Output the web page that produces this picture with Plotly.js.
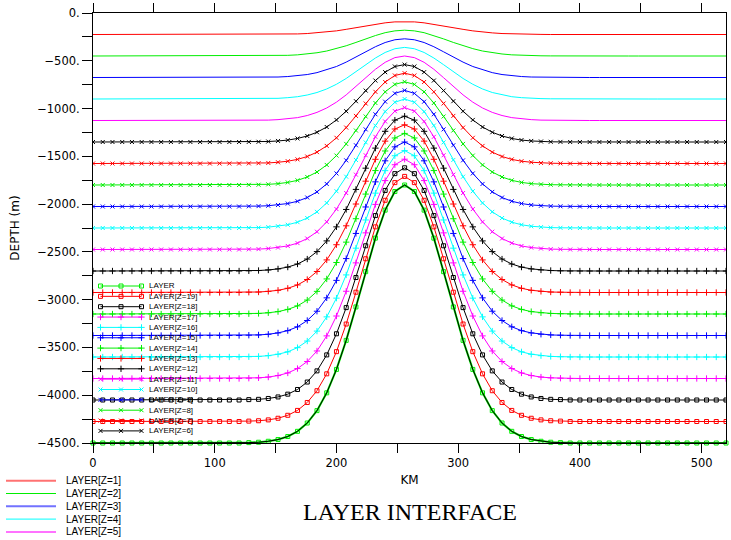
<!DOCTYPE html>
<html><head><meta charset="utf-8">
<script src="https://cdn.plot.ly/plotly-3.0.1.min.js"></script>
<style>html,body{margin:0;padding:0;background:#fff;}#chart{width:731px;height:540px;}</style>
</head><body><div id="chart"></div>
<script>
// ---------------- DATA ----------------
const xKm = [0,8,16,24,32,40,48,56,64,72,80,88,96,104,112,120,128,136,144,152,160,168,176,184,192,200,208,216,224,232,240,248,256,264,272,280,288,296,304,312,320,328,336,344,352,360,368,376,384,392,400,408,416,424,432,440,448,456,464,472,480,488,496,504,512,520];

const layer1 = [-225,-225,-225,-225,-225,-225,-225,-225,-225,-225,-225,-225,-225,-225,-225,-225,
 -225,-225,-224,-223,-222,-219,-215,-208,-199,-187,-171,-154,-135,-118,-103,-93,-90,
 -93,-103,-118,-135,-154,-171,-187,-199,-208,-215,-219,-222,-223,-224,-225,-225,
 -225,-225,-225,-225,-225,-225,-225,-225,-225,-225,-225,-225,-225,-225,-225,-225,-225];
const layer2 = [-450,-450,-450,-450,-450,-450,-450,-450,-450,-450,-450,-450,-450,-450,-450,-450,
 -450,-449,-448,-446,-443,-438,-429,-416,-398,-373,-343,-308,-271,-236,-206,-187,-180,
 -187,-206,-236,-271,-308,-343,-373,-398,-416,-429,-438,-443,-446,-448,-449,-450,
 -450,-450,-450,-450,-450,-450,-450,-450,-450,-450,-450,-450,-450,-450,-450,-450,-450];
const layer3 = [-675,-675,-675,-675,-675,-675,-675,-675,-675,-675,-675,-675,-675,-675,-675,-675,
 -674,-674,-672,-670,-665,-657,-644,-624,-596,-560,-514,-461,-406,-353,-309,-280,-270,
 -280,-309,-353,-406,-461,-514,-560,-596,-624,-644,-657,-665,-670,-672,-674,-674,
 -675,-675,-675,-675,-675,-675,-675,-675,-675,-675,-675,-675,-675,-675,-675,-675,-675];
const layer4 = [-900,-900,-900,-900,-900,-900,-900,-900,-900,-900,-900,-900,-900,-900,-900,-900,
 -899,-898,-896,-893,-886,-876,-858,-832,-795,-746,-685,-615,-541,-471,-413,-374,-360,
 -374,-413,-471,-541,-615,-685,-746,-795,-832,-858,-876,-886,-893,-896,-898,-899,
 -900,-900,-900,-900,-900,-900,-900,-900,-900,-900,-900,-900,-900,-900,-900,-900,-900];
const layer5 = [-1125,-1125,-1125,-1125,-1125,-1125,-1125,-1125,-1125,-1125,-1125,-1125,-1125,-1125,-1125,-1125,
 -1124,-1123,-1121,-1116,-1108,-1095,-1073,-1040,-994,-933,-857,-769,-677,-589,-516,-467,-450,
 -467,-516,-589,-677,-769,-857,-933,-994,-1040,-1073,-1095,-1108,-1116,-1121,-1123,-1124,
 -1125,-1125,-1125,-1125,-1125,-1125,-1125,-1125,-1125,-1125,-1125,-1125,-1125,-1125,-1125,-1125,-1125];
const layer6 = [-1350,-1350,-1350,-1350,-1350,-1350,-1350,-1350,-1350,-1350,-1350,-1350,-1350,-1350,-1350,-1350,
 -1349,-1348,-1345,-1339,-1330,-1313,-1287,-1248,-1193,-1119,-1028,-923,-812,-707,-619,-560,-540,
 -560,-619,-707,-812,-923,-1028,-1119,-1193,-1248,-1287,-1313,-1330,-1339,-1345,-1348,-1349,
 -1350,-1350,-1350,-1350,-1350,-1350,-1350,-1350,-1350,-1350,-1350,-1350,-1350,-1350,-1350,-1350,-1350];
const layer7 = [-1575,-1575,-1575,-1575,-1575,-1575,-1575,-1575,-1575,-1575,-1575,-1575,-1575,-1575,-1575,-1575,
 -1574,-1572,-1569,-1562,-1551,-1532,-1502,-1456,-1391,-1306,-1199,-1077,-947,-825,-722,-654,-630,
 -654,-722,-825,-947,-1077,-1199,-1306,-1391,-1456,-1502,-1532,-1551,-1562,-1569,-1572,-1574,
 -1575,-1575,-1575,-1575,-1575,-1575,-1575,-1575,-1575,-1575,-1575,-1575,-1575,-1575,-1575,-1575,-1575];
const layer8 = [-1800,-1800,-1800,-1800,-1800,-1800,-1800,-1800,-1800,-1800,-1800,-1800,-1800,-1800,-1800,-1800,
 -1798,-1797,-1793,-1786,-1773,-1751,-1716,-1664,-1590,-1492,-1370,-1230,-1083,-942,-825,-747,-720,
 -747,-825,-942,-1083,-1230,-1370,-1492,-1590,-1664,-1716,-1751,-1773,-1786,-1793,-1797,-1798,
 -1800,-1800,-1800,-1800,-1800,-1800,-1800,-1800,-1800,-1800,-1800,-1800,-1800,-1800,-1800,-1800,-1800];
const layer9 = [-2025,-2025,-2025,-2025,-2025,-2025,-2025,-2025,-2025,-2025,-2025,-2025,-2025,-2025,-2025,-2025,
 -2023,-2021,-2017,-2009,-1994,-1970,-1931,-1872,-1789,-1679,-1542,-1384,-1218,-1060,-928,-841,-810,
 -841,-928,-1060,-1218,-1384,-1542,-1679,-1789,-1872,-1931,-1970,-1994,-2009,-2017,-2021,-2023,
 -2025,-2025,-2025,-2025,-2025,-2025,-2025,-2025,-2025,-2025,-2025,-2025,-2025,-2025,-2025,-2025,-2025];
const layer10 = [-2250,-2250,-2250,-2250,-2250,-2250,-2250,-2250,-2250,-2250,-2250,-2250,-2250,-2250,-2250,-2250,
 -2248,-2246,-2241,-2232,-2216,-2189,-2146,-2081,-1988,-1865,-1713,-1538,-1354,-1178,-1032,-934,-900,
 -934,-1032,-1178,-1354,-1538,-1713,-1865,-1988,-2081,-2146,-2189,-2216,-2232,-2241,-2246,-2248,
 -2250,-2250,-2250,-2250,-2250,-2250,-2250,-2250,-2250,-2250,-2250,-2250,-2250,-2250,-2250,-2250,-2250];
const layer11 = [-2475,-2475,-2475,-2475,-2475,-2475,-2475,-2475,-2475,-2475,-2475,-2475,-2475,-2475,-2475,-2475,
 -2473,-2471,-2465,-2455,-2438,-2408,-2360,-2289,-2186,-2052,-1884,-1692,-1489,-1296,-1135,-1027,-990,
 -1027,-1135,-1296,-1489,-1692,-1884,-2052,-2186,-2289,-2360,-2408,-2438,-2455,-2465,-2471,-2473,
 -2475,-2475,-2475,-2475,-2475,-2475,-2475,-2475,-2475,-2475,-2475,-2475,-2475,-2475,-2475,-2475,-2475];
const layer12 = [-2700,-2700,-2700,-2700,-2700,-2700,-2700,-2700,-2700,-2700,-2700,-2700,-2700,-2700,-2700,-2700,
 -2698,-2695,-2689,-2678,-2659,-2627,-2575,-2497,-2385,-2238,-2056,-1846,-1624,-1414,-1238,-1121,-1080,
 -1121,-1238,-1414,-1624,-1846,-2056,-2238,-2385,-2497,-2575,-2627,-2659,-2678,-2689,-2695,-2698,
 -2700,-2700,-2700,-2700,-2700,-2700,-2700,-2700,-2700,-2700,-2700,-2700,-2700,-2700,-2700,-2700,-2700];
const layer13 = [-2925,-2925,-2925,-2925,-2925,-2925,-2925,-2925,-2925,-2925,-2925,-2925,-2925,-2925,-2925,-2925,
 -2922,-2920,-2913,-2902,-2881,-2846,-2789,-2705,-2584,-2425,-2227,-1999,-1760,-1531,-1341,-1214,-1170,
 -1214,-1341,-1531,-1760,-1999,-2227,-2425,-2584,-2705,-2789,-2846,-2881,-2902,-2913,-2920,-2922,
 -2925,-2925,-2925,-2925,-2925,-2925,-2925,-2925,-2925,-2925,-2925,-2925,-2925,-2925,-2925,-2925,-2925];
const layer14 = [-3150,-3150,-3150,-3150,-3150,-3150,-3150,-3150,-3150,-3150,-3150,-3150,-3150,-3150,-3150,-3150,
 -3147,-3144,-3137,-3125,-3102,-3065,-3004,-2913,-2783,-2611,-2398,-2153,-1895,-1649,-1444,-1308,-1260,
 -1308,-1444,-1649,-1895,-2153,-2398,-2611,-2783,-2913,-3004,-3065,-3102,-3125,-3137,-3144,-3147,
 -3150,-3150,-3150,-3150,-3150,-3150,-3150,-3150,-3150,-3150,-3150,-3150,-3150,-3150,-3150,-3150,-3150];
const layer15 = [-3375,-3375,-3375,-3375,-3375,-3375,-3375,-3375,-3375,-3375,-3375,-3375,-3375,-3375,-3375,-3375,
 -3372,-3369,-3362,-3348,-3324,-3284,-3218,-3121,-2981,-2798,-2570,-2307,-2030,-1767,-1547,-1401,-1350,
 -1401,-1547,-1767,-2030,-2307,-2570,-2798,-2981,-3121,-3218,-3284,-3324,-3348,-3362,-3369,-3372,
 -3375,-3375,-3375,-3375,-3375,-3375,-3375,-3375,-3375,-3375,-3375,-3375,-3375,-3375,-3375,-3375,-3375];
const layer16 = [-3600,-3600,-3600,-3600,-3600,-3600,-3600,-3600,-3600,-3600,-3600,-3600,-3600,-3600,-3600,-3600,
 -3597,-3594,-3586,-3571,-3546,-3502,-3433,-3329,-3180,-2984,-2741,-2461,-2166,-1885,-1650,-1494,-1440,
 -1494,-1650,-1885,-2166,-2461,-2741,-2984,-3180,-3329,-3433,-3502,-3546,-3571,-3586,-3594,-3597,
 -3600,-3600,-3600,-3600,-3600,-3600,-3600,-3600,-3600,-3600,-3600,-3600,-3600,-3600,-3600,-3600,-3600];
const layer17 = [-3825,-3825,-3825,-3825,-3825,-3825,-3825,-3825,-3825,-3825,-3825,-3825,-3825,-3825,-3825,-3825,
 -3822,-3818,-3810,-3794,-3767,-3721,-3647,-3537,-3379,-3171,-2912,-2615,-2301,-2003,-1754,-1588,-1530,
 -1588,-1754,-2003,-2301,-2615,-2912,-3171,-3379,-3537,-3647,-3721,-3767,-3794,-3810,-3818,-3822,
 -3825,-3825,-3825,-3825,-3825,-3825,-3825,-3825,-3825,-3825,-3825,-3825,-3825,-3825,-3825,-3825,-3825];
const layer18 = [-4050,-4050,-4050,-4050,-4050,-4050,-4050,-4050,-4050,-4050,-4050,-4050,-4050,-4050,-4050,-4050,
 -4046,-4043,-4034,-4018,-3989,-3940,-3862,-3745,-3578,-3357,-3083,-2768,-2436,-2120,-1857,-1681,-1620,
 -1681,-1857,-2120,-2436,-2768,-3083,-3357,-3578,-3745,-3862,-3940,-3989,-4018,-4034,-4043,-4046,
 -4050,-4050,-4050,-4050,-4050,-4050,-4050,-4050,-4050,-4050,-4050,-4050,-4050,-4050,-4050,-4050,-4050];
const layer19 = [-4275,-4275,-4275,-4275,-4275,-4275,-4275,-4275,-4275,-4275,-4275,-4275,-4275,-4275,-4275,-4275,
 -4271,-4267,-4258,-4241,-4210,-4159,-4076,-3953,-3776,-3544,-3255,-2922,-2572,-2238,-1960,-1775,-1710,
 -1775,-1960,-2238,-2572,-2922,-3255,-3544,-3776,-3953,-4076,-4159,-4210,-4241,-4258,-4267,-4271,
 -4275,-4275,-4275,-4275,-4275,-4275,-4275,-4275,-4275,-4275,-4275,-4275,-4275,-4275,-4275,-4275,-4275];
const layer20 = [-4500,-4500,-4500,-4500,-4500,-4500,-4500,-4500,-4500,-4500,-4500,-4500,-4500,-4500,-4500,-4500,
 -4496,-4492,-4482,-4464,-4432,-4378,-4291,-4161,-3975,-3730,-3426,-3076,-2707,-2356,-2063,-1868,-1800,
 -1868,-2063,-2356,-2707,-3076,-3426,-3730,-3975,-4161,-4291,-4378,-4432,-4464,-4482,-4492,-4496,
 -4500,-4500,-4500,-4500,-4500,-4500,-4500,-4500,-4500,-4500,-4500,-4500,-4500,-4500,-4500,-4500,-4500];

const layerNames = ['LAYER[Z=1]','LAYER[Z=2]','LAYER[Z=3]','LAYER[Z=4]','LAYER[Z=5]','LAYER[Z=6]','LAYER[Z=7]',
  'LAYER[Z=8]','LAYER[Z=9]','LAYER[Z=10]','LAYER[Z=11]','LAYER[Z=12]','LAYER[Z=13]','LAYER[Z=14]','LAYER[Z=15]',
  'LAYER[Z=16]','LAYER[Z=17]','LAYER[Z=18]','LAYER[Z=19]','LAYER'];

const xTickVals = [0,50,100,150,200,250,300,350,400,450,500];
const xTickText = ['0','','100','','200','','300','','400','','500'];
const yTickVals = [0,-250,-500,-750,-1000,-1250,-1500,-1750,-2000,-2250,-2500,-2750,-3000,-3250,-3500,-3750,-4000,-4250,-4500];
const yTickText = ['0.','','\u2212500.','','\u22121000.','','\u22121500.','','\u22122000.','','\u22122500.','',
  '\u22123000.','','\u22123500.','','\u22124000.','','\u22124500.'];

// ---------------- STYLE ----------------
const layers = [layer1,layer2,layer3,layer4,layer5,layer6,layer7,layer8,layer9,layer10,
  layer11,layer12,layer13,layer14,layer15,layer16,layer17,layer18,layer19,layer20];
const cycle = ['#ff0000','#00ee00','#0000ff','#00ffff','#ff00ff','#000000'];
function colorOf(i){ return cycle[i % 6]; }
function symbolOf(i){ // i = 0-based layer index
  if (i < 5) return null;
  if (i < 11) return {symbol:'x-thin', size:4};
  if (i < 17) return {symbol:'cross-thin', size:4.5};
  return {symbol:'square-open', size:4};
}

const W = 731, H = 540, ML = 93, MR = 5, MT = 13, MB = 97;
const PW = W - ML - MR, PH = H - MT - MB;
const X_MAX = 520, Y_MIN = -4500;
const pxToKm = px => (px - ML) / PW * X_MAX;
const pyToDepth = py => (py - MT) / PH * Y_MIN;
const pxToPaperX = px => (px - ML) / PW;
const pyToPaperY = py => (H - MB - py) / PH;

function styleFor(i, lw){
  const c = colorOf(i), s = symbolOf(i);
  const t = {mode: s ? 'lines+markers' : 'lines', line:{color:c, width:lw}};
  if (s) t.marker = {symbol:s.symbol, size:s.size, color:c, line:{color:c, width:1}};
  return t;
}

const traces = [];
layers.forEach((ys, i) => {
  const t = Object.assign({x:xKm, y:ys, type:'scatter', showlegend:false, hoverinfo:'skip', cliponaxis:(i!==19)},
    styleFor(i, i===19 ? 2 : 1));
  traces.push(t);
});
// dark bottom outline drawn over the deepest layer
traces.push({x:xKm, y:layer20, type:'scatter', mode:'lines', line:{color:'#000', width:1},
  showlegend:false, hoverinfo:'skip'});

// ---------------- hand-drawn legends ----------------
const annotations = [];
const shapes = [];
// legend 1 (inside plot): LAYER (z=20) down to Z=6
const L1_ROW0 = 286, L1_STEP = 10.35, L1_SAMPLE = [100.5, 121, 141.5], L1_TEXT = 147;
for (let r = 0; r < 15; r++) {
  const i = 19 - r;
  const py = L1_ROW0 + r * L1_STEP;
  const yv = pyToDepth(py);
  traces.push(Object.assign({x:L1_SAMPLE.map(pxToKm), y:[yv,yv,yv], type:'scatter', showlegend:false, hoverinfo:'skip'},
    styleFor(i, 1)));
  annotations.push({xref:'paper', yref:'paper', x:pxToPaperX(L1_TEXT), y:pyToPaperY(py), xanchor:'left', yanchor:'middle',
    text:layerNames[i], showarrow:false, font:{family:'Liberation Sans, Arial, sans-serif', size:8, color:'#000'}});
}
// legend 2 (below plot): Z=1..5
const L2_ROW0 = 480.7, L2_STEP = 12.8, L2_X0 = 6, L2_X1 = 56, L2_TEXT = 64;
const L2_WIDTHS = [2, 1, 2, 1, 2];
for (let r = 0; r < 5; r++) {
  const py = L2_ROW0 + r * L2_STEP;
  shapes.push({type:'line', xref:'paper', yref:'paper', x0:pxToPaperX(L2_X0), x1:pxToPaperX(L2_X1),
    y0:pyToPaperY(py), y1:pyToPaperY(py), opacity:(L2_WIDTHS[r] > 1 ? 0.55 : 1), line:{color:colorOf(r), width:L2_WIDTHS[r]}});
  annotations.push({xref:'paper', yref:'paper', x:pxToPaperX(L2_TEXT), y:pyToPaperY(py), xanchor:'left', yanchor:'middle',
    text:layerNames[r], showarrow:false, font:{family:'Liberation Sans, Arial, sans-serif', size:10, color:'#000'}});
}

const tickFont = {family:'DejaVu Sans, sans-serif', size:11.5, color:'#000'};
const layout = {
  width:W, height:H,
  margin:{l:ML, r:MR, t:MT, b:MB, pad:0},
  paper_bgcolor:'#fff', plot_bgcolor:'#fff',
  showlegend:false,
  title:{text:'LAYER INTERFACE', font:{family:'Liberation Serif, Times New Roman, serif', size:24, color:'#000'},
    x:410/W, xanchor:'center', y:1-512/H, yanchor:'middle', xref:'container', yref:'container'},
  xaxis:{range:[0,X_MAX], tickvals:xTickVals, ticktext:xTickText, ticks:'outside', ticklen:9, tickwidth:1, tickcolor:'#000',
    showline:true, linecolor:'#000', linewidth:1, mirror:'allticks', showgrid:false, zeroline:false,
    tickfont:tickFont, title:{text:'KM', font:{family:'DejaVu Sans, sans-serif', size:12, color:'#000'}, standoff:6}},
  yaxis:{range:[Y_MIN,0], tickvals:yTickVals, ticktext:yTickText, ticks:'outside', ticklen:10, tickwidth:1, tickcolor:'#000',
    showline:true, linecolor:'#000', linewidth:1, mirror:true, showgrid:false, zeroline:false,
    tickfont:tickFont, title:{text:'DEPTH (m)', font:{family:'DejaVu Sans, sans-serif', size:12, color:'#000'}, standoff:14}},
  yaxis2:{overlaying:'y', side:'right', range:[Y_MIN,0], tickvals:yTickVals, showticklabels:false, ticks:'outside',
    ticklen:5, tickwidth:1, tickcolor:'#000', showline:false, showgrid:false, zeroline:false},
  annotations:annotations, shapes:shapes
};
Plotly.newPlot('chart', traces, layout, {staticPlot:true, displayModeBar:false});
</script></body></html>
